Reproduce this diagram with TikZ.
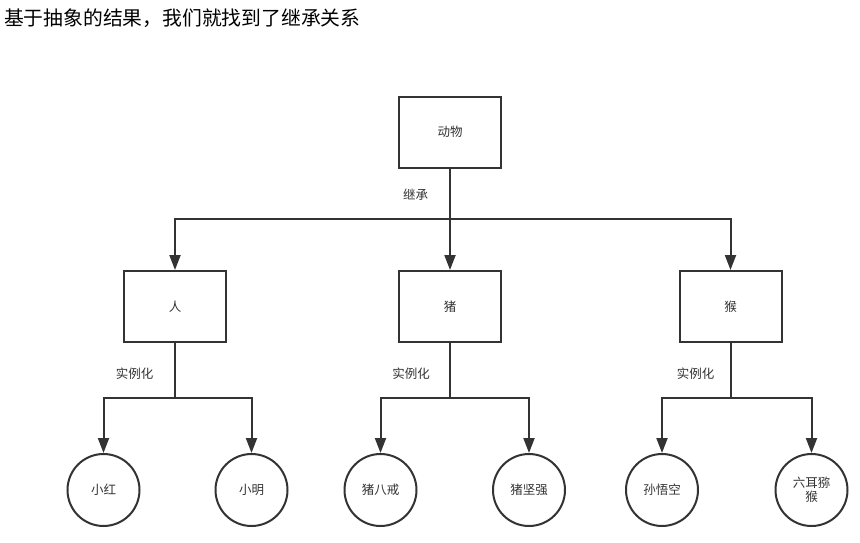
\documentclass[tikz,border=0pt]{standalone}
\usepackage{fontspec}
\newfontfamily\cjk{Noto Sans CJK SC}
\usetikzlibrary{arrows.meta}
\definecolor{ln}{HTML}{333333}
\definecolor{tx}{HTML}{333333}
\begin{document}
\begin{tikzpicture}[x=1pt,y=-1pt,
  box/.style={draw=ln,line width=2pt,minimum width=102pt,minimum height=71pt,inner sep=0pt,font=\cjk\fontsize{12.5}{14}\selectfont,text=tx},
  obj/.style={draw=ln,line width=2pt,circle,minimum size=72pt,inner sep=0pt,align=center,font=\cjk\fontsize{12.5}{14.5}\selectfont,text=tx},
  lbl/.style={font=\cjk\fontsize{12.5}{14}\selectfont,text=tx,inner sep=0pt},
  conn/.style={draw=ln,line width=2pt,-{Triangle[length=15pt,width=11pt]}}]
\useasboundingbox (0,0) rectangle (860,542);
\fill[white] (0,0) rectangle (860,542);
\node[anchor=west,inner sep=0pt,font=\cjk\fontsize{19.8}{22}\selectfont] (title) at (4,18) {基于抽象的结果，我们就找到了继承关系};
% boxes
\node[box] (animal) at (450,132) {动物};
\node[box] (person) at (175,306.5) {人};
\node[box] (pig) at (450,306.5) {猪};
\node[box] (monkey) at (730.5,306.5) {猴};
% circles
\node[obj] (xh) at (103.5,490) {小红};
\node[obj] (xm) at (251.5,490) {小明};
\node[obj] (zbj) at (380.5,490) {猪八戒};
\node[obj] (zjq) at (529,490) {猪坚强};
\node[obj] (swk) at (662,490) {孙悟空};
\node[obj] (lemh) at (811.5,490) {六耳猕\\猴};
% labels
\node[lbl] (l0) at (415.5,195) {继承};
\node[lbl] (l1) at (134.5,374) {实例化};
\node[lbl] (l2) at (411,374) {实例化};
\node[lbl] (l3) at (695.5,374) {实例化};
% junctions
\coordinate (j0) at (450,219);
\coordinate (j1) at (175,398);
\coordinate (j2) at (450,398);
\coordinate (j3) at (730.5,398);
% inheritance connectors
\draw[conn] (animal.south) -- (j0) -| (person.north);
\draw[conn] (animal.south) -- (pig.north);
\draw[conn] (animal.south) -- (j0) -| (monkey.north);
% instance connectors
\draw[conn] (person.south) -- (j1) -| (xh.north);
\draw[conn] (person.south) -- (j1) -| (xm.north);
\draw[conn] (pig.south) -- (j2) -| (zbj.north);
\draw[conn] (pig.south) -- (j2) -| (zjq.north);
\draw[conn] (monkey.south) -- (j3) -| (swk.north);
\draw[conn] (monkey.south) -- (j3) -| (lemh.north);
\end{tikzpicture}
\end{document}
